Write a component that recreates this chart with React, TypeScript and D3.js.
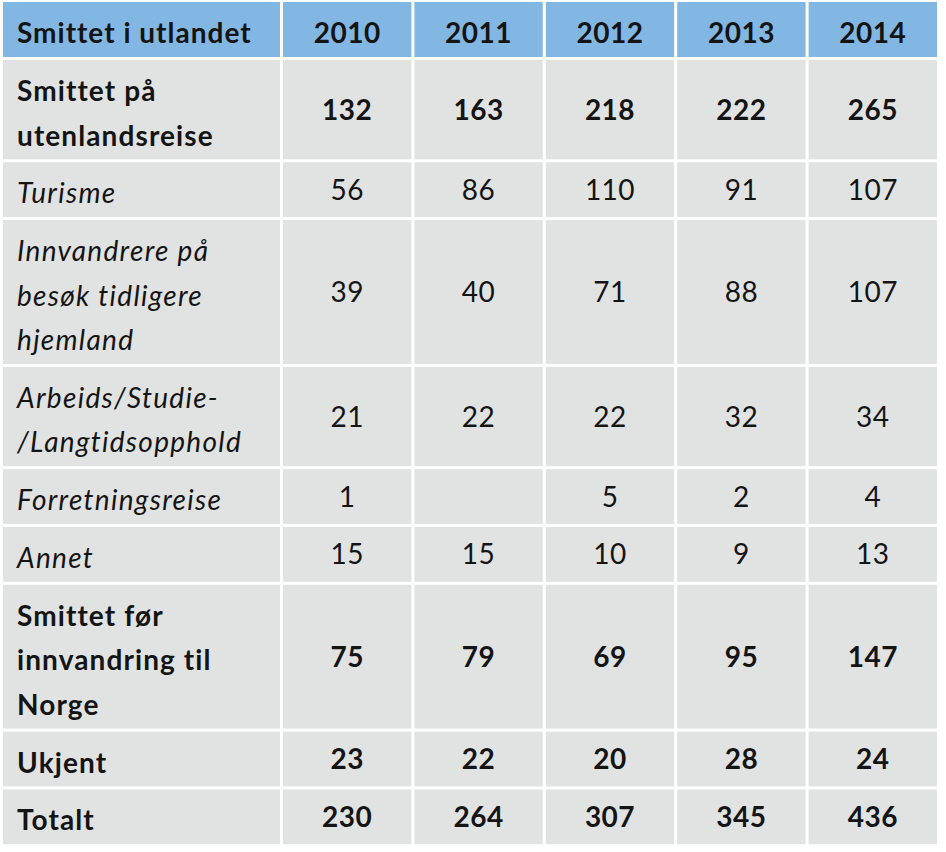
import React, { useEffect, useRef } from 'react';
import * as d3 from 'd3';

const years = ['2010', '2011', '2012', '2013', '2014'];
const headerLabel = 'Smittet i utlandet';

const rowLabels = [
  ['Smittet på', 'utenlandsreise'],
  ['Turisme'],
  ['Innvandrere på', 'besøk tidligere', 'hjemland'],
  ['Arbeids/Studie-', '/Langtidsopphold'],
  ['Forretningsreise'],
  ['Annet'],
  ['Smittet før', 'innvandring til', 'Norge'],
  ['Ukjent'],
  ['Totalt'],
];
// sub-categories of "Smittet på utenlandsreise" are set in italics
const isSubRow = [false, true, true, true, true, true, false, false, false];

const values2010 = [132, 56, 39, 21, 1, 15, 75, 23, 230];
const values2011 = [163, 86, 40, 22, null, 15, 79, 22, 264];
const values2012 = [218, 110, 71, 22, 5, 10, 69, 20, 307];
const values2013 = [222, 91, 88, 32, 2, 9, 95, 28, 345];
const values2014 = [265, 107, 107, 34, 4, 13, 147, 24, 436];
const valuesByYear = [values2010, values2011, values2012, values2013, values2014];

const W = 946;
const H = 852;

const App = () => {
  const svgRef = useRef<SVGSVGElement>(null);

  useEffect(() => {
    const svg = d3.select(svgRef.current);
    svg.selectAll('*').remove();

    const blue = '#83b7e3';
    const grey = '#e1e2e2';
    const ink = '#141414';
    const font = 'Lato, "Noto Sans", sans-serif';
    const fontSize = 28;
    const gap = 3;

    const left = 3;
    const labelRight = 280;
    const top = 2;

    const x = d3.scaleBand<string>()
      .domain(years)
      .range([labelRight + gap, 937])
      .paddingInner(0.023);

    // row height grows with the number of text lines
    const lineH = d3.scaleLinear().domain([0, 1]).range([10.3, 54.8]);
    const lineStep = lineH(1) - lineH(0);

    const headerH = 55;
    const rows: { top: number; h: number }[] = [];
    let yPos = top + headerH + gap;
    rowLabels.forEach(lines => {
      const h = lineH(lines.length);
      rows.push({ top: yPos, h });
      yPos += h + gap;
    });

    svg.append('rect').attr('width', W).attr('height', H).attr('fill', '#fff');

    const g = svg.append('g');

    // Header
    g.append('rect')
      .attr('x', left).attr('y', top)
      .attr('width', labelRight - left).attr('height', headerH)
      .attr('fill', blue);
    g.append('text')
      .attr('x', 17).attr('y', top + 41)
      .attr('font-family', font).attr('font-size', fontSize).attr('font-weight', 'bold')
      .attr('letter-spacing', 1)
      .attr('fill', ink)
      .text(headerLabel);

    years.forEach(yr => {
      g.append('rect')
        .attr('x', x(yr)!).attr('y', top)
        .attr('width', x.bandwidth()).attr('height', headerH)
        .attr('fill', blue);
      g.append('text')
        .attr('x', x(yr)! + x.bandwidth() / 2).attr('y', top + 41)
        .attr('text-anchor', 'middle')
        .attr('font-family', font).attr('font-size', fontSize).attr('font-weight', 'bold')
        .attr('letter-spacing', 0.5)
        .attr('fill', ink)
        .text(yr);
    });

    // Body rows
    rowLabels.forEach((lines, i) => {
      const r = rows[i];
      const italic = isSubRow[i];
      const weight = italic ? 'normal' : 'bold';
      const style = italic ? 'italic' : 'normal';

      g.append('rect')
        .attr('x', left).attr('y', r.top)
        .attr('width', labelRight - left).attr('height', r.h)
        .attr('fill', grey);

      const t = g.append('text')
        .attr('font-family', font).attr('font-size', fontSize)
        .attr('font-weight', weight).attr('font-style', style)
        .attr('letter-spacing', italic ? 1.3 : 1.1)
        .attr('fill', ink);
      lines.forEach((ln, k) => {
        t.append('tspan')
          .attr('x', 17)
          .attr('y', r.top + 41 + k * lineStep)
          .text(ln);
      });

      years.forEach((yr, j) => {
        g.append('rect')
          .attr('x', x(yr)!).attr('y', r.top)
          .attr('width', x.bandwidth()).attr('height', r.h)
          .attr('fill', grey);
        const v = valuesByYear[j][i];
        if (v == null) return;
        g.append('text')
          .attr('x', x(yr)! + x.bandwidth() / 2)
          .attr('y', r.top + r.h / 2 + 10)
          .attr('text-anchor', 'middle')
          .attr('font-family', font).attr('font-size', fontSize)
          .attr('font-weight', weight)
          .attr('letter-spacing', 0.5)
          .attr('fill', ink)
          .text(v);
      });
    });
  }, []);

  return (
    <svg
      ref={svgRef}
      width={W}
      height={H}
      style={{ position: 'absolute', left: 0, top: 0, display: 'block' }}
    />
  );
};

export default App;
